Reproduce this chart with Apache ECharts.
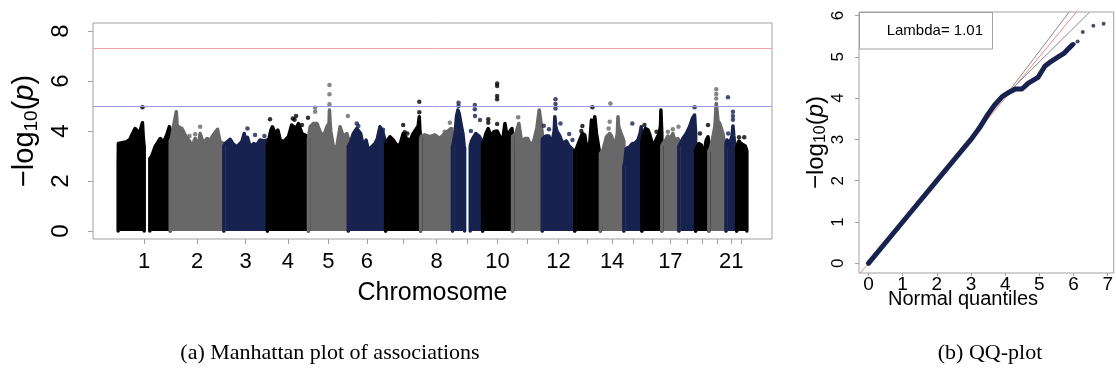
<!DOCTYPE html>
<html>
<head>
<meta charset="utf-8">
<title>Manhattan and QQ plot</title>
<script src="https://cdn.jsdelivr.net/npm/echarts@6.0.0/dist/echarts.min.js"></script>
<style>html,body{margin:0;padding:0;background:#fff;}</style>
</head>
<body>
<div id="main" style="width:1116px;height:378px;"></div>
<script>
// chromosome layout (length of each block on the genome axis)
var chromosomes = ['1','2','3','4','5','6','7','8','9','10','11','12','13','14','15','16','17','18','19','20','21','22'];
var chrLength = [240, 247, 201, 189, 184, 172, 161, 147, 139, 138, 137, 150, 118, 108, 83, 92, 79, 77, 61, 79, 49, 47];
var labelledChr = ['1','2','3','4','5','6','8','10','12','14','17','21'];

// upper edge of the dense SNP cloud per chromosome: [position in chr, -log10(p)]
// chromosomes 1 and 9 have an empty centromere stretch, so two segments
var envelope = [
  [[[0,0],[0,2.7],[1,3.5],[40,3.57],[55,3.67],[63,3.84],[78,4.1],[86,4.04],[98,3.9],[112,4.33],[116,3.7],[120,3.37],[120,0]],
   [[146,0],[146,2.9],[155,3.0],[170,3.37],[194,3.7],[209,3.55],[224,3.84],[236,4.17],[240,4.04],[240,0]]],
  [[[0,0],[0,3.6],[5,3.7],[15,4.17],[24,4.1],[28,4.77],[32,4.2],[38,4.24],[54,4.1],[69,3.84],[89,3.6],[100,3.37],[115,3.7],[126,3.3],[138,3.9],[153,3.5],[169,3.7],[184,3.64],[203,3.9],[218,4.07],[230,3.57],[247,3.5],[247,0]]],
  [[[0,0],[0,3.4],[6,3.5],[29,3.67],[41,3.5],[60,3.37],[83,3.57],[94,3.9],[100,3.6],[109,3.75],[121,3.37],[138,3.5],[152,3.44],[167,3.64],[187,3.6],[201,3.64],[201,0]]],
  [[[0,0],[0,3.4],[5,3.44],[15,4.0],[23,4.17],[35,3.9],[48,4.04],[59,3.64],[74,3.57],[97,3.77],[112,4.24],[120,4.3],[132,4.1],[143,4.3],[159,3.9],[174,3.84],[189,3.7],[189,0]]],
  [[[0,0],[0,3.7],[8,4.17],[23,4.3],[39,4.3],[54,3.97],[69,3.77],[85,4.17],[95,4.3],[97,4.84],[100,4.3],[103,4.0],[115,3.37],[131,3.37],[146,4.17],[161,3.77],[177,3.9],[184,3.7],[184,0]]],
  [[[0,0],[0,3.4],[8,3.5],[23,3.9],[39,4.1],[46,4.1],[57,3.9],[69,3.37],[82,3.64],[92,3.24],[108,3.37],[123,3.5],[134,3.7],[146,4.17],[159,3.97],[170,3.57],[172,3.5],[172,0]]],
  [[[0,0],[0,3.5],[5,3.6],[20,3.77],[35,3.64],[51,3.44],[66,3.44],[81,3.9],[97,3.7],[112,3.6],[127,3.9],[138,4.04],[150,4.2],[155,4.57],[158,4.0],[161,3.8],[161,0]]],
  [[[0,0],[0,3.7],[4,3.8],[20,3.84],[43,3.77],[66,3.84],[89,3.7],[111,3.9],[126,4.0],[140,4.1],[147,3.9],[147,0]]],
  [[[0,0],[0,3.4],[4,3.5],[12,3.9],[19,4.6],[25,4.84],[31,4.7],[39,4.3],[48,3.9],[54,3.4],[56,3.3],[56,0]],
   [[82,0],[82,3.4],[88,3.6],[94,3.7],[108,3.9],[122,3.8],[136,3.6],[139,3.6],[139,0]]],
  [[[0,0],[0,3.5],[6,3.6],[15,3.9],[26,4.1],[38,3.8],[52,3.97],[67,4.0],[80,3.77],[94,3.7],[103,4.3],[114,3.7],[126,4.0],[135,4.1],[138,3.8],[138,0]]],
  [[[0,0],[0,3.7],[1,3.8],[15,3.9],[29,4.3],[43,3.5],[57,3.7],[70,3.7],[84,3.4],[98,3.6],[112,4.1],[123,4.84],[130,4.4],[137,3.9],[137,0]]],
  [[[0,0],[0,3.6],[2,3.7],[16,3.8],[30,3.8],[44,3.5],[55,4.0],[58,4.57],[62,4.2],[67,4.0],[81,3.8],[94,3.5],[111,3.6],[124,3.4],[136,3.3],[150,3.1],[150,0]]],
  [[[0,0],[0,3.2],[8,3.3],[23,3.64],[35,3.9],[46,3.84],[54,3.37],[69,3.5],[77,4.44],[81,4.2],[86,3.9],[92,4.57],[100,3.9],[112,3.24],[118,3.2],[118,0]]],
  [[[0,0],[0,3.1],[12,3.24],[28,3.77],[43,3.9],[51,3.8],[66,3.37],[78,3.9],[81,4.57],[84,4.2],[89,4.04],[104,3.7],[108,3.6],[108,0]]],
  [[[0,0],[0,2.6],[4,2.7],[11,3.3],[27,3.37],[40,3.5],[50,3.5],[65,3.64],[75,3.9],[80,4.17],[83,4.0],[83,0]]],
  [[[0,0],[0,3.6],[8,3.9],[17,4.1],[29,4.04],[37,3.84],[52,3.37],[68,3.7],[80,3.9],[86,4.2],[88,4.84],[90,4.3],[92,3.9],[92,0]]],
  [[[0,0],[0,3.4],[5,3.5],[15,3.6],[28,3.8],[40,3.7],[51,3.9],[59,3.64],[74,3.7],[79,3.6],[79,0]]],
  [[[0,0],[0,3.4],[6,3.5],[18,3.7],[34,3.9],[49,4.17],[62,4.5],[72,4.64],[77,3.9],[77,0]]],
  [[[0,0],[0,3.2],[3,3.3],[15,3.5],[26,3.44],[34,2.9],[49,3.64],[57,3.77],[61,3.5],[61,0]]],
  [[[0,0],[0,3.2],[7,3.3],[19,3.77],[28,4.2],[34,5.1],[42,4.4],[50,4.3],[65,3.9],[74,3.4],[79,3.3],[79,0]]],
  [[[0,0],[0,3.5],[5,3.64],[17,3.5],[28,3.8],[32,4.2],[36,3.8],[40,3.5],[48,3.37],[49,3.3],[49,0]]],
  [[[0,0],[0,3.3],[6,3.5],[11,3.6],[20,3.5],[29,3.57],[40,3.4],[47,3.2],[47,0]]]
];

// isolated SNPs standing above the cloud: [position in chr, -log10(p)]
var hits = [
  [[112,4.95]],
  [[89,3.8],[115,3.87],[138,4.17]],
  [[109,4.1],[144,3.84],[187,3.8]],
  [[12,4.47],[117,4.5],[132,4.6],[159,4.24],[187,4.53],[125,4.45]],
  [[31,4.93],[31,4.77],[97,5.84],[97,5.47],[97,5.07],[182,4.6]],
  [[39,4.3],[46,4.2],[160,4.05]],
  [[81,4.24],[155,5.17],[155,4.75],[88,3.95],[100,3.9]],
  [[111,3.97],[145,4.07],[135,4.33]],
  [[28,5.13],[28,5.0],[103,5.04],[103,4.87],[104,4.6],[85,4.0],[127,4.44]],
  [[67,5.9],[67,5.8],[67,5.4],[67,5.27],[67,4.28],[26,4.47],[26,4.33]],
  [[26,4.55]],
  [[61,5.27],[61,5.08],[61,4.9],[7,4.21],[31,4.07],[84,4.3],[124,3.88],[139,3.64]],
  [[35,4.2],[81,4.95],[30,4.0]],
  [[46,5.1],[43,4.37],[38,4.1]],
  [[39,4.3]],
  [[68,3.97],[12,4.24]],
  [[28,3.97],[51,4.07],[77,4.17]],
  [[72,4.95]],
  [[57,4.24],[20,3.9]],
  [[34,5.67],[34,5.48],[34,5.3]],
  [[9,5.35],[10,3.9],[32,4.77],[32,4.6],[32,4.45]],
  [[11,3.75],[35,3.75]]
];

var genomeWideLine = 7.3;
var suggestiveLine = 5;
var manhattanYTicks = [0, 2, 4, 6, 8];

// QQ plot: [expected, observed] -log10(p)
var qqCurve = [[0,0],[1,1],[2,2],[3,3.0],[3.25,3.28],[3.49,3.6],[3.68,3.82],[3.92,4.04],[4.11,4.14],[4.3,4.22],[4.49,4.22],[4.68,4.36],[4.96,4.5],[5.16,4.77],[5.35,4.89],[5.54,4.99],[5.73,5.09],[5.87,5.21],[5.97,5.29]];
var qqTail = [[6.01,5.31],[6.12,5.37],[6.27,5.6],[6.58,5.75],[6.88,5.8]];
var qqDiagonal = [[-0.4,-0.4],[6.4,6.4]];
var qqBandUpper = [[4.05,4.1],[5.87,6.08]];
var qqBandLower = [[4.05,4.1],[6.47,6.08]];
var qqXTicks = [0, 1, 2, 3, 4, 5, 6, 7];
var qqYTicks = [0, 1, 2, 3, 4, 5, 6];
var lambdaText = 'Lambda= 1.01';

var chrColors = ['#000000', '#686868', '#18224f'];
var navy = '#18224f';
var sans = "'Liberation Sans', Arial, sans-serif";
var serif = "'Liberation Serif', 'Times New Roman', serif";

var offsets = [];
var acc = 0;
chrLength.forEach(function (l) { offsets.push(acc); acc += l; });
var centers = chrLength.map(function (l, i) { return offsets[i] + l / 2; });
var labelCenters = labelledChr.map(function (c) { return centers[chromosomes.indexOf(c)]; });

function chrAt(v) {
  var best = 0;
  centers.forEach(function (c, i) { if (Math.abs(c - v) < Math.abs(centers[best] - v)) best = i; });
  return chromosomes[best];
}

function logpName(size, sub, drop) {
  return {
    text: '{a|\u2212log}{s|10}{a|(}{i|p}{a|)}',
    style: {
      color: '#000', fontFamily: sans, fontSize: size,
      rich: {
        a: { fontSize: size, fontFamily: sans, color: '#000' },
        s: { fontSize: sub, fontFamily: sans, color: '#000', padding: [drop, 0, 0, 0] },
        i: { fontSize: size, fontFamily: sans, fontStyle: 'italic', color: '#000' }
      }
    }
  };
}

var series = [];
envelope.forEach(function (segs, i) {
  var col = chrColors[i % 3];
  segs.forEach(function (seg) {
    series.push({
      type: 'line', xAxisIndex: 0, yAxisIndex: 0,
      data: seg.map(function (p) { return [offsets[i] + p[0], p[1]]; }),
      symbol: 'none', silent: true, animation: false, z: 2,
      lineStyle: { color: col, width: 3.5, join: 'round', cap: 'round' },
      areaStyle: { color: col, opacity: 1, origin: 'auto' }
    });
  });
});

var hitData = [];
hits.forEach(function (list, i) {
  list.forEach(function (p) {
    hitData.push({ value: [offsets[i] + p[0], p[1]], itemStyle: { color: chrColors[i % 3] } });
  });
});
series.push({
  type: 'scatter', xAxisIndex: 0, yAxisIndex: 0, data: hitData,
  symbolSize: 4.5, silent: true, animation: false, z: 3
});

// threshold lines
series.push({
  type: 'line', xAxisIndex: 0, yAxisIndex: 0, data: [], z: 5, silent: true, animation: false,
  markLine: {
    silent: true, symbol: ['none', 'none'], label: { show: false }, animation: false,
    data: [
      { yAxis: genomeWideLine, lineStyle: { color: '#f2a3a3', width: 1, type: 'solid' } },
      { yAxis: suggestiveLine, lineStyle: { color: '#9a9ae2', width: 1, type: 'solid' } }
    ]
  }
});

// QQ plot
series.push({
  type: 'line', xAxisIndex: 1, yAxisIndex: 1, data: qqDiagonal, symbol: 'none',
  silent: true, animation: false, z: 1, lineStyle: { color: '#ee8888', width: 1 }
});
series.push({
  type: 'line', xAxisIndex: 1, yAxisIndex: 1, data: qqBandUpper, symbol: 'none',
  silent: true, animation: false, z: 1, lineStyle: { color: '#8a8a8a', width: 1 }
});
series.push({
  type: 'line', xAxisIndex: 1, yAxisIndex: 1, data: qqBandLower, symbol: 'none',
  silent: true, animation: false, z: 1, lineStyle: { color: '#8a8a8a', width: 1 }
});
series.push({
  type: 'line', xAxisIndex: 1, yAxisIndex: 1, data: qqCurve, symbol: 'none',
  silent: true, animation: false, z: 3, lineStyle: { color: navy, width: 5, join: 'round', cap: 'round' }
});
series.push({
  type: 'scatter', xAxisIndex: 1, yAxisIndex: 1, data: qqTail, symbolSize: 4,
  silent: true, animation: false, z: 3, itemStyle: { color: navy }
});

var axisGrey = '#a0a0a0';
var mName = logpName(29, 19, 13);
var qName = logpName(24, 16, 10);

var chart = echarts.init(document.getElementById('main'));
chart.setOption({
  backgroundColor: '#fff',
  animation: false,
  grid: [
    { left: 93, top: 23, width: 679, height: 216, show: true, borderColor: axisGrey, borderWidth: 1, backgroundColor: 'transparent' },
    { left: 859, top: 12, width: 262, height: 261, show: true, borderColor: axisGrey, borderWidth: 1, backgroundColor: 'transparent' }
  ],
  xAxis: [
    {
      type: 'value', gridIndex: 0, min: -116, max: 3014,
      axisLine: { show: false, onZero: false }, splitLine: { show: false },
      axisTick: { show: true, customValues: centers, length: 5, lineStyle: { color: axisGrey } },
      axisLabel: { customValues: labelCenters, formatter: function (v) { return chrAt(v); },
        fontSize: 22, fontFamily: sans, color: '#000', margin: 12 },
      name: 'Chromosome', nameLocation: 'middle', nameGap: 42,
      nameTextStyle: { fontSize: 25, fontFamily: sans, color: '#000' }
    },
    {
      type: 'value', gridIndex: 1, min: -0.276, max: 7.176,
      axisLine: { show: false, onZero: false }, splitLine: { show: false },
      axisTick: { show: true, customValues: qqXTicks, length: 3, lineStyle: { color: axisGrey } },
      axisLabel: { customValues: qqXTicks, fontSize: 19, fontFamily: sans, color: '#000', margin: 2 }
    }
  ],
  yAxis: [
    {
      type: 'value', gridIndex: 0, min: -0.32, max: 8.32,
      axisLine: { show: false, onZero: false }, splitLine: { show: false },
      axisTick: { show: true, customValues: manhattanYTicks, length: 5, lineStyle: { color: axisGrey } },
      axisLabel: { customValues: manhattanYTicks, rotate: 90, fontSize: 24, fontFamily: sans, color: '#000', margin: 20 },
      name: mName.text, nameLocation: 'middle', nameRotate: 90, nameGap: 49,
      nameTextStyle: mName.style
    },
    {
      type: 'value', gridIndex: 1, min: -0.234, max: 6.084,
      axisLine: { show: false, onZero: false }, splitLine: { show: false },
      axisTick: { show: true, customValues: qqYTicks, length: 4, lineStyle: { color: axisGrey } },
      axisLabel: { customValues: qqYTicks, rotate: 90, fontSize: 17, fontFamily: sans, color: '#000', margin: 12 },
      name: qName.text, nameLocation: 'middle', nameRotate: 90, nameGap: 30,
      nameTextStyle: qName.style
    }
  ],
  graphic: [
    { type: 'rect', shape: { x: 859.5, y: 12.5, width: 133, height: 36.5 },
      style: { fill: '#fff', stroke: axisGrey, lineWidth: 1 }, z: 10 },
    { type: 'text', x: 983, y: 31, z: 11,
      style: { text: lambdaText, font: '15px ' + sans, fill: '#000', textAlign: 'right', textVerticalAlign: 'middle' } },
    { type: 'text', x: 963, y: 299, z: 11,
      style: { text: 'Normal quantiles', font: '20px ' + sans, fill: '#000', textAlign: 'center', textVerticalAlign: 'middle' } },
    { type: 'text', x: 330, y: 353, z: 11,
      style: { text: '(a) Manhattan plot of associations', font: '22px ' + serif, fill: '#000', textAlign: 'center', textVerticalAlign: 'middle' } },
    { type: 'text', x: 990, y: 353, z: 11,
      style: { text: '(b) QQ-plot', font: '22px ' + serif, fill: '#000', textAlign: 'center', textVerticalAlign: 'middle' } }
  ],
  series: series
});
</script>
</body>
</html>
